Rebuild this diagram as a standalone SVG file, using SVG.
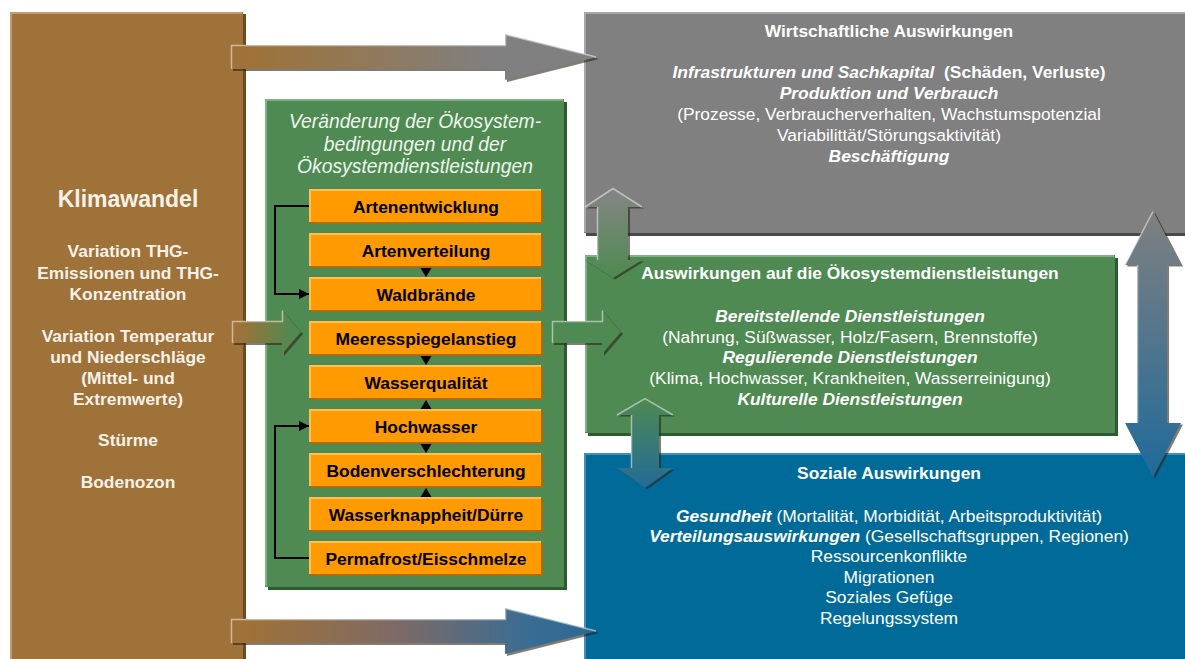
<svg xmlns="http://www.w3.org/2000/svg" width="1185" height="659" viewBox="0 0 1185 659">
<style>
text{font-family:"Liberation Sans",Arial,sans-serif;font-size:17.4px;text-anchor:middle}
.b{font-weight:bold}
.bi{font-weight:bold;font-style:italic}
.r{font-weight:normal;font-style:normal}
.w{fill:#ffffff}
.lt{fill:#F6F1E8}
.ot{font-weight:bold;fill:#000}
.orect{fill:#FF9A00}
.oshadow{fill:#B36B00}
.ohl{fill:none;stroke:#FFCB73;stroke-width:1.5}
.elbow{fill:none;stroke:#000;stroke-width:2}
.tri{fill:#000}
.ash{fill:#2b2418;opacity:.6}
.hl{fill:none;stroke:#ffffff;stroke-opacity:.5;stroke-width:1.5}
</style>
<defs>
<marker id="ah" markerUnits="userSpaceOnUse" markerWidth="10" markerHeight="10" refX="10" refY="5" orient="auto">
<path d="M0,0 L10,5 L0,10 z" fill="#000"/>
</marker>
<linearGradient id="gTop" gradientUnits="userSpaceOnUse" x1="231" y1="0" x2="597" y2="0">
<stop offset="0.05" stop-color="#9E7238"/><stop offset="0.72" stop-color="#808080"/><stop offset="1" stop-color="#808080"/>
</linearGradient>
<linearGradient id="gBot" gradientUnits="userSpaceOnUse" x1="231" y1="0" x2="597" y2="0">
<stop offset="0.05" stop-color="#9E7238"/><stop offset="0.45" stop-color="#7E6A66"/><stop offset="0.8" stop-color="#3C6C92"/><stop offset="1" stop-color="#2B6995"/>
</linearGradient>
<linearGradient id="gMidL" gradientUnits="userSpaceOnUse" x1="232" y1="0" x2="301" y2="0">
<stop offset="0.1" stop-color="#9E7238"/><stop offset="0.9" stop-color="#4E8A51"/>
</linearGradient>
<linearGradient id="gV1" gradientUnits="userSpaceOnUse" x1="0" y1="188" x2="0" y2="278">
<stop offset="0" stop-color="#858585"/><stop offset="1" stop-color="#4E8A51"/>
</linearGradient>
<linearGradient id="gV2" gradientUnits="userSpaceOnUse" x1="0" y1="398" x2="0" y2="488">
<stop offset="0" stop-color="#4E8A51"/><stop offset="1" stop-color="#246A98"/>
</linearGradient>
<linearGradient id="gV3" gradientUnits="userSpaceOnUse" x1="0" y1="211" x2="0" y2="477">
<stop offset="0" stop-color="#808080"/><stop offset="1" stop-color="#1F6A9A"/>
</linearGradient>
</defs>

<rect width="1185" height="659" fill="#ffffff"/>

<!-- Klimawandel -->
<g id="klimawandel">
<rect x="13" y="14" width="233" height="650" fill="#6B4B20"/>
<rect x="10" y="12" width="233" height="650" fill="#9E7238"/>
<polyline points="11,660 11,13 242,13" fill="none" stroke="#C9AC82" stroke-width="1.5"/>
<text x="128" y="207" class="b lt" style="font-size:23px">Klimawandel</text>
<text x="128" y="257" class="b lt">Variation THG-</text>
<text x="128" y="279" class="b lt">Emissionen und THG-</text>
<text x="128" y="300" class="b lt">Konzentration</text>
<text x="128" y="342" class="b lt">Variation Temperatur</text>
<text x="128" y="363" class="b lt">und Niederschläge</text>
<text x="128" y="384" class="b lt">(Mittel- und</text>
<text x="128" y="405" class="b lt">Extremwerte)</text>
<text x="128" y="446" class="b lt">Stürme</text>
<text x="128" y="488" class="b lt">Bodenozon</text>
</g>

<!-- Wirtschaftliche Auswirkungen -->
<g id="wirtschaft">
<rect x="586" y="14" width="610" height="222" fill="#4A4A4A"/>
<rect x="584" y="12" width="610" height="221" fill="#808080"/>
<polyline points="585,232 585,13 1185,13" fill="none" stroke="#B4B4B4" stroke-width="1.5"/>
<text x="889" y="37" class="b w">Wirtschaftliche Auswirkungen</text>
<text x="889" y="78" class="b w" xml:space="preserve"><tspan class="bi">Infrastrukturen und Sachkapital</tspan>  (Schäden, Verluste)</text>
<text x="889" y="99" class="bi w">Produktion und Verbrauch</text>
<text x="889" y="120" class="w">(Prozesse, Verbraucherverhalten, Wachstumspotenzial</text>
<text x="889" y="141" class="w">Variabilittät/Störungsaktivität)</text>
<text x="889" y="162" class="bi w">Beschäftigung</text>
</g>

<!-- Auswirkungen auf die Ökosystemdienstleistungen -->
<g id="oekosystem">
<rect x="588" y="258" width="530" height="178" fill="#2E5A31"/>
<rect x="585" y="255" width="530" height="178" fill="#4E8A51"/>
<polyline points="586,432 586,256 1114,256" fill="none" stroke="#93BD95" stroke-width="1.5"/>
<text x="850" y="279" class="b w">Auswirkungen auf die Ökosystemdienstleistungen</text>
<text x="850" y="322" class="bi w">Bereitstellende Dienstleistungen</text>
<text x="850" y="343" class="w">(Nahrung, Süßwasser, Holz/Fasern, Brennstoffe)</text>
<text x="850" y="363" class="bi w">Regulierende Dienstleistungen</text>
<text x="850" y="384" class="w">(Klima, Hochwasser, Krankheiten, Wasserreinigung)</text>
<text x="850" y="405" class="bi w">Kulturelle Dienstleistungen</text>
</g>

<!-- Soziale Auswirkungen -->
<g id="sozial">
<rect x="584" y="453" width="610" height="210" fill="#006B99"/>
<polyline points="585,660 585,454 1185,454" fill="none" stroke="#5A9CC0" stroke-width="1.5"/>
<text x="889" y="479" class="b w">Soziale Auswirkungen</text>
<text x="889" y="522" class="w"><tspan class="bi">Gesundheit</tspan> (Mortalität, Morbidität, Arbeitsproduktivität)</text>
<text x="889" y="542" class="w"><tspan class="bi">Verteilungsauswirkungen</tspan> (Gesellschaftsgruppen, Regionen)</text>
<text x="889" y="562" class="w">Ressourcenkonflikte</text>
<text x="889" y="583" class="w">Migrationen</text>
<text x="889" y="603" class="w">Soziales Gefüge</text>
<text x="889" y="624" class="w">Regelungssystem</text>
</g>

<!-- Veränderung der Ökosystembedingungen -->
<g id="veraenderung">
<rect x="268" y="102" width="299" height="488" fill="#2E5A31"/>
<rect x="265" y="99" width="299" height="488" fill="#4E8A51"/>
<polyline points="266,586 266,100 563,100" fill="none" stroke="#93BD95" stroke-width="1.5"/>
<text x="415" y="128" style="font-style:italic;font-size:19.3px" fill="#EEF5EE">Veränderung der Ökosystem-</text>
<text x="415" y="151" style="font-style:italic;font-size:19.3px" fill="#EEF5EE">bedingungen und der</text>
<text x="415" y="173" style="font-style:italic;font-size:19.3px" fill="#EEF5EE">Ökosystemdienstleistungen</text>
</g>

<g id="artenentwicklung">
<rect class="oshadow" x="311" y="191" width="232" height="33"/><rect class="orect" x="309" y="189" width="232" height="33"/>
<polyline class="ohl" points="310,222 310,190 541,190"/>
<text x="426" y="213" class="ot">Artenentwicklung</text>
</g>
<g id="artenverteilung">
<rect class="oshadow" x="311" y="235" width="232" height="33"/><rect class="orect" x="309" y="233" width="232" height="33"/>
<polyline class="ohl" points="310,266 310,234 541,234"/>
<text x="426" y="257" class="ot">Artenverteilung</text>
</g>
<g id="waldbraende">
<rect class="oshadow" x="311" y="279" width="232" height="33"/><rect class="orect" x="309" y="277" width="232" height="33"/>
<polyline class="ohl" points="310,310 310,278 541,278"/>
<text x="426" y="301" class="ot">Waldbrände</text>
</g>
<g id="meeresspiegelanstieg">
<rect class="oshadow" x="311" y="323" width="232" height="33"/><rect class="orect" x="309" y="321" width="232" height="33"/>
<polyline class="ohl" points="310,354 310,322 541,322"/>
<text x="426" y="345" class="ot">Meeresspiegelanstieg</text>
</g>
<g id="wasserqualitaet">
<rect class="oshadow" x="311" y="367" width="232" height="33"/><rect class="orect" x="309" y="365" width="232" height="33"/>
<polyline class="ohl" points="310,398 310,366 541,366"/>
<text x="426" y="389" class="ot">Wasserqualität</text>
</g>
<g id="hochwasser">
<rect class="oshadow" x="311" y="411" width="232" height="33"/><rect class="orect" x="309" y="409" width="232" height="33"/>
<polyline class="ohl" points="310,442 310,410 541,410"/>
<text x="426" y="433" class="ot">Hochwasser</text>
</g>
<g id="bodenverschlechterung">
<rect class="oshadow" x="311" y="455" width="232" height="33"/><rect class="orect" x="309" y="453" width="232" height="33"/>
<polyline class="ohl" points="310,486 310,454 541,454"/>
<text x="426" y="477" class="ot">Bodenverschlechterung</text>
</g>
<g id="wasserknappheit">
<rect class="oshadow" x="311" y="499" width="232" height="33"/><rect class="orect" x="309" y="497" width="232" height="33"/>
<polyline class="ohl" points="310,530 310,498 541,498"/>
<text x="426" y="521" class="ot">Wasserknappheit/Dürre</text>
</g>
<g id="permafrost">
<rect class="oshadow" x="311" y="543" width="232" height="33"/><rect class="orect" x="309" y="541" width="232" height="33"/>
<polyline class="ohl" points="310,574 310,542 541,542"/>
<text x="426" y="565" class="ot">Permafrost/Eisschmelze</text>
</g>

<!-- Connectors -->
<g id="connectors">
<!-- elbow connectors -->
<polyline class="elbow" points="309,206 275,206 275,294 309,294" marker-end="url(#ah)"/>
<polyline class="elbow" points="309,558 275,558 275,426 309,426" marker-end="url(#ah)"/>
<!-- small triangles -->
<polygon class="tri" points="420.5,268 431.5,268 426,277"/>
<polygon class="tri" points="420.5,356 431.5,356 426,365"/>
<polygon class="tri" points="420.5,409 431.5,409 426,400"/>
<polygon class="tri" points="420.5,444 431.5,444 426,453"/>
<polygon class="tri" points="420.5,497 431.5,497 426,488"/>

<!-- top arrow: Klimawandel -> Wirtschaft -->
<polygon class="ash" transform="translate(2,2)" points="231,45 505,45 505,34 597,57 505,80 505,69 231,69"/>
<polygon fill="url(#gTop)" points="231,45 505,45 505,34 597,57 505,80 505,69 231,69"/>
<polyline class="hl" points="231.5,69 231.5,45.5 505.5,45.5 505.5,34.5 596,57"/>

<!-- bottom arrow: Klimawandel -> Sozial -->
<polygon class="ash" transform="translate(2,2)" points="231,619 505,619 505,608 597,631 505,654 505,643 231,643"/>
<polygon fill="url(#gBot)" points="231,619 505,619 505,608 597,631 505,654 505,643 231,643"/>
<polyline class="hl" points="231.5,643 231.5,619.5 505.5,619.5 505.5,608.5 596,631"/>

<!-- mid arrow: Klimawandel -> Veränderung -->
<polygon class="ash" transform="translate(2,2)" points="232,321 282,321 282,310 301,332 282,354 282,343 232,343"/>
<polygon fill="url(#gMidL)" points="232,321 282,321 282,310 301,332 282,354 282,343 232,343"/>
<polyline class="hl" points="232.5,343 232.5,321.5 282.5,321.5 282.5,310.5"/>

<!-- mid arrow: Veränderung -> Ökosystem -->
<polygon class="ash" transform="translate(2,2)" points="552,321 602,321 602,310 621,332 602,354 602,343 552,343"/>
<polygon fill="#4E8A51" points="552,321 602,321 602,310 621,332 602,354 602,343 552,343"/>
<polyline class="hl" points="552.5,343 552.5,321.5 602.5,321.5 602.5,310.5"/>

<!-- vertical double arrow: Wirtschaft <-> Ökosystem -->
<polygon class="ash" transform="translate(2,1.5)" points="613,188 642,207 628,207 628,260 642,260 613,278 585,260 597,260 597,207 585,207"/>
<polygon fill="url(#gV1)" points="613,188 642,207 628,207 628,260 642,260 613,278 585,260 597,260 597,207 585,207"/>
<polyline class="hl" points="585,207 613,188.5 642,207"/>
<polyline class="hl" points="597.5,207 597.5,260"/>

<!-- vertical double arrow: Ökosystem <-> Sozial -->
<polygon class="ash" transform="translate(2,1.5)" points="645,398 673,415 659,415 659,468 673,468 645,488 617,468 631,468 631,415 617,415"/>
<polygon fill="url(#gV2)" points="645,398 673,415 659,415 659,468 673,468 645,488 617,468 631,468 631,415 617,415"/>
<polyline class="hl" points="617,415 645,398.5 673,415"/>
<polyline class="hl" points="631.5,415 631.5,468"/>

<!-- vertical double arrow: Wirtschaft <-> Sozial -->
<polygon class="ash" transform="translate(2,1.5)" points="1153,211 1181,265 1167,265 1167,423 1181,423 1153,477 1125,423 1137,423 1137,265 1125,265"/>
<polygon fill="url(#gV3)" points="1153,211 1181,265 1167,265 1167,423 1181,423 1153,477 1125,423 1137,423 1137,265 1125,265"/>
<polyline class="hl" points="1125,265 1153,211.5"/>
<polyline class="hl" points="1137.5,265 1137.5,423"/>
</g>
</svg>
